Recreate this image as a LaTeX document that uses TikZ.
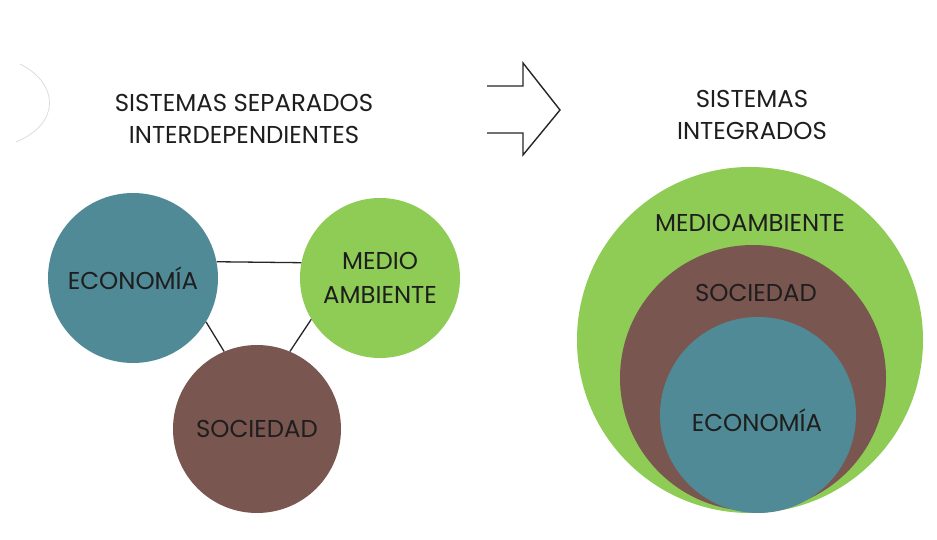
\documentclass[tikz,border=0pt]{standalone}
\usepackage{fontspec}
\setmainfont{Poppins}
\definecolor{ecoblue}{RGB}{80,138,150}
\definecolor{envgreen}{RGB}{142,204,86}
\definecolor{socbrown}{RGB}{122,86,80}
\definecolor{txt}{RGB}{30,30,30}
\begin{document}
\begin{tikzpicture}[x=1bp,y=-1bp,
  lbl/.style={text=txt,font=\fontsize{24.5}{32}\selectfont,align=center,inner sep=0pt},
  circ/.style={circle,draw=none,inner sep=0pt,text=txt,font=\fontsize{24.5}{34}\selectfont,align=center},
  link/.style={draw=black!85,line width=1.3bp},
  bigarrow/.style={draw=black!85,line width=1.4bp,line join=miter}]
\useasboundingbox[fill=white] (0,0) rectangle (937,540);
% faint scan arc at the left edge
\draw[black!15,line width=0.7bp] (20,64) .. controls (60,84) and (60,124) .. (16,142);
% titles
\node[lbl] (t1) at (244,119) {SISTEMAS SEPARADOS\\INTERDEPENDIENTES};
\node[lbl] (t2) at (752,115) {SISTEMAS\\INTEGRADOS};
% arrow
\draw[bigarrow] (487,86) -- (523,86) -- (523,63) -- (560,110) -- (523,155) -- (523,133) -- (487,133);
% separated systems
\node[circ,fill=ecoblue,minimum size=170bp] (eco) at (133,278) {ECONOMÍA};
\node[circ,fill=envgreen,minimum size=160bp] (med) at (380,278) {MEDIO\\AMBIENTE};
\node[circ,fill=socbrown,minimum size=168bp] (soc) at (257,429) {SOCIEDAD};
\draw[link] (eco.11) -- (med.169);
\draw[link] (eco.-31) -- (soc.113);
\draw[link] (med.211) -- (soc.67);
% integrated systems
\node[circ,fill=envgreen,minimum size=346bp] (bgreen) at (750,340) {};
\node[circ,fill=socbrown,minimum size=266bp] (bbrown) at (753,378) {};
\node[circ,fill=ecoblue,minimum size=196bp] (bblue) at (758,415) {};
\node[lbl] (lmed) at (750,223) {MEDIOAMBIENTE};
\node[lbl] (lsoc) at (756,293) {SOCIEDAD};
\node[lbl] (leco) at (757,420) {ECONOMÍA};
\end{tikzpicture}
\end{document}
